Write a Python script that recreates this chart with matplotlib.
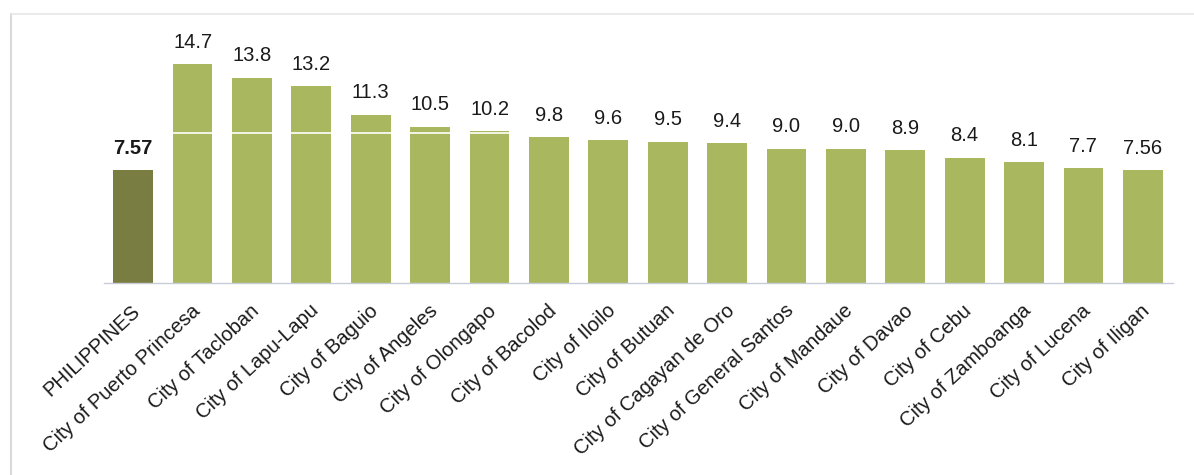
import matplotlib.pyplot as plt
from matplotlib.lines import Line2D
from matplotlib.transforms import ScaledTranslation

plt.rcParams['font.family'] = ['Liberation Sans', 'DejaVu Sans']

# data
areas = ['PHILIPPINES', 'City of Puerto Princesa', 'City of Tacloban', 'City of Lapu-Lapu',
         'City of Baguio', 'City of Angeles', 'City of Olongapo', 'City of Bacolod',
         'City of Iloilo', 'City of Butuan', 'City of Cagayan de Oro', 'City of General Santos',
         'City of Mandaue', 'City of Davao', 'City of Cebu', 'City of Zamboanga',
         'City of Lucena', 'City of Iligan']
values = [7.57, 14.7, 13.8, 13.2, 11.3, 10.5, 10.2, 9.8, 9.6, 9.5, 9.4, 9.0, 9.0, 8.9, 8.4, 8.1, 7.7, 7.56]
value_labels = ['7.57', '14.7', '13.8', '13.2', '11.3', '10.5', '10.2', '9.8', '9.6', '9.5',
                '9.4', '9.0', '9.0', '8.9', '8.4', '8.1', '7.7', '7.56']

green = '#a9b75e'
dark = '#7a7d42'
colors = [dark] + [green] * (len(areas) - 1)

fig = plt.figure(figsize=(11.94, 4.75), dpi=100)
ax = fig.add_axes([103.5 / 1194, 192 / 475, 1069 / 1194, 268 / 475])

x = list(range(len(areas)))
ax.bar(x, values, width=0.67, color=colors, zorder=2)
# faint scan band across the tall bars
ax.axhline(10.1, color='white', lw=1.2, zorder=3)

for i, (v, lab) in enumerate(zip(values, value_labels)):
    ax.annotate(lab, (i, v), xytext=(0, 9), textcoords='offset points',
                ha='center', va='bottom', fontsize=14.5, color='#1a1a1a',
                fontweight='bold' if i == 0 else 'normal')

ax.set_xlim(-0.5, len(areas) - 0.5)
ax.set_ylim(0, 18)
ax.set_yticks([])
ax.set_xticks(x)
ax.set_xticklabels(areas, rotation=43, ha='right', va='top', rotation_mode='anchor',
                   fontsize=14.5, color='#1a1a1a')
ax.tick_params(axis='x', length=0, pad=13)
off = ScaledTranslation(-2 / 100, 0, fig.dpi_scale_trans)
for t in ax.get_xticklabels():
    t.set_transform(t.get_transform() + off)

for s in ['top', 'right', 'left']:
    ax.spines[s].set_visible(False)
ax.spines['bottom'].set_color('#c9ccd6')
ax.spines['bottom'].set_linewidth(1)

# light frame around the chart
fig.add_artist(Line2D([10.5 / 1194, 10.5 / 1194], [0, 1 - 14 / 475],
                      transform=fig.transFigure, color='#d9d9d9', lw=1.5))
fig.add_artist(Line2D([10.5 / 1194, 1], [1 - 14 / 475, 1 - 14 / 475],
                      transform=fig.transFigure, color='#e6e6e6', lw=1.2))

fig.savefig('out.png', dpi=100)
